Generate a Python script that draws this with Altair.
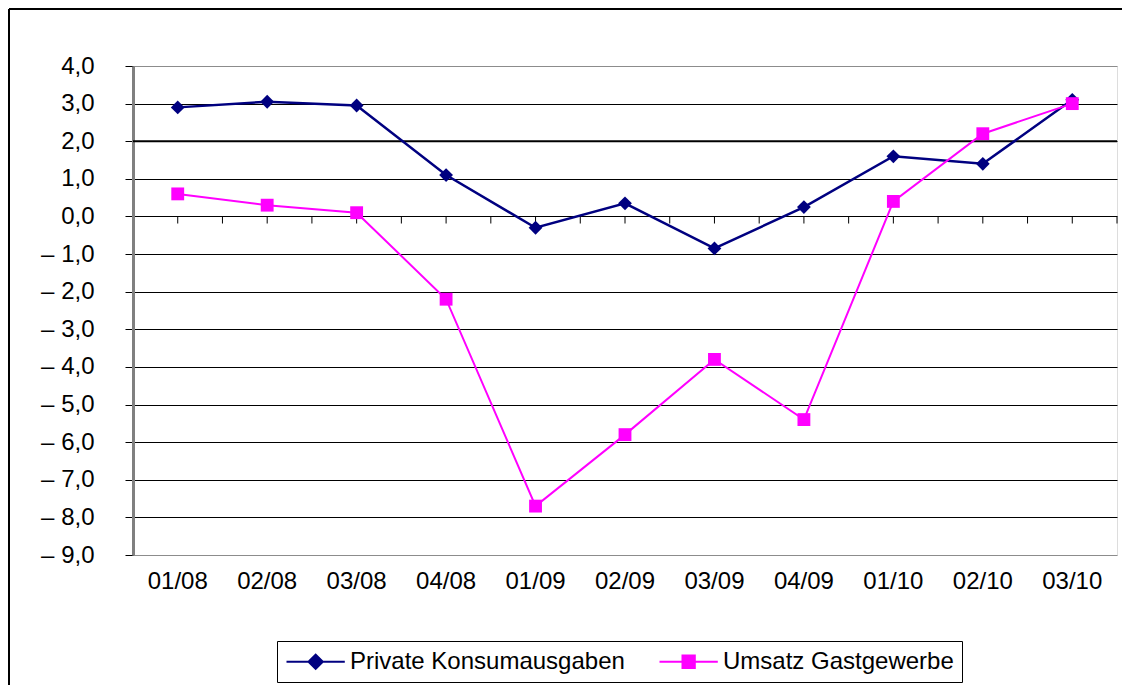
import altair as alt
import pandas as pd

categories = ["01/08", "02/08", "03/08", "04/08", "01/09", "02/09",
              "03/09", "04/09", "01/10", "02/10", "03/10"]
private_konsum = [2.9, 3.05, 2.95, 1.1, -0.3, 0.35, -0.85, 0.25, 1.6, 1.4, 3.1]
umsatz_gast = [0.6, 0.3, 0.1, -2.2, -7.7, -5.8, -3.8, -5.4, 0.4, 2.2, 3.0]
series_names = ["Private Konsumausgaben", "Umsatz Gastgewerbe"]
series_colors = ["#000080", "#FF00FF"]
y_ticks = list(range(-9, 5))
ref_line = [2.0]

rows = []
for c, a, b in zip(categories, private_konsum, umsatz_gast):
    rows.append({"cat": c, "series": series_names[0], "v": a})
    rows.append({"cat": c, "series": series_names[1], "v": b})
df = pd.DataFrame(rows)

FONT = "Liberation Sans"
FS = 24

xscale = alt.Scale(type="band", domain=categories, paddingInner=0, paddingOuter=0)
xaxis = alt.Axis(title=None, labelAngle=0, ticks=False, domain=False, grid=False,
                 labelFontSize=FS, labelFont=FONT, labelColor="black", labelPadding=14)
yscale = alt.Scale(domain=[-9, 4], nice=False, zero=False)
label_expr = ("datum.value < 0 ? '\u2013 ' + replace(format(abs(datum.value), '.1f'), '.', ',')"
              " : replace(format(datum.value, '.1f'), '.', ',')")
yaxis = alt.Axis(title=None, values=y_ticks, grid=True,
                 gridColor={"condition": {"test": "datum.value >= 4 || datum.value <= -9",
                                          "value": "#8c8c8c"}, "value": "#000000"},
                 gridWidth=1, domainColor="#808080", domainWidth=3,
                 tickColor="black", tickSize=8, tickWidth=1,
                 labelExpr=label_expr, labelFontSize=FS, labelFont=FONT,
                 labelColor="black", labelPadding=31)

X = alt.X("cat:N", scale=xscale, axis=xaxis, sort=categories)
Y = alt.Y("v:Q", scale=yscale, axis=yaxis)

base = alt.Chart(df)

ref = alt.Chart(pd.DataFrame({"v": ref_line})).mark_rule(color="black", strokeWidth=2).encode(
    y=alt.Y("v:Q", scale=yscale, axis=yaxis))

zero_df = pd.DataFrame({"cat": categories, "v": [0.0] * len(categories)})
tick_c = alt.Chart(zero_df).mark_tick(orient="vertical", size=7, thickness=1,
                                      color="black", yOffset=3.5, opacity=1).encode(
    x=alt.X("cat:N", scale=xscale, axis=xaxis, sort=categories, bandPosition=0.5),
    y=alt.Y("v:Q", scale=yscale, axis=yaxis))
tick_b = alt.Chart(zero_df).mark_tick(orient="vertical", size=7, thickness=1,
                                      color="black", yOffset=3.5, opacity=1).encode(
    x=alt.X("cat:N", scale=xscale, axis=xaxis, sort=categories, bandPosition=1),
    y=alt.Y("v:Q", scale=yscale, axis=yaxis))

line_pk = base.transform_filter(alt.datum.series == series_names[0]).mark_line(
    color=series_colors[0], strokeWidth=2.5).encode(x=X, y=Y)
line_ug = base.transform_filter(alt.datum.series == series_names[1]).mark_line(
    color=series_colors[1], strokeWidth=2).encode(x=X, y=Y)
pts_pk = base.transform_filter(alt.datum.series == series_names[0]).mark_point(
    shape="diamond", filled=True, size=190, color=series_colors[0], opacity=1).encode(x=X, y=Y)
pts_ug = base.transform_filter(alt.datum.series == series_names[1]).mark_point(
    shape="square", filled=True, size=165, color=series_colors[1], opacity=1).encode(x=X, y=Y)

legend_shapes = [
    "M-1,0L4.3,0M1.01,0L1.65,-0.64L2.29,0L1.65,0.64Z",
    "M-1,0L4.3,0M1.1,-0.55L2.2,-0.55L2.2,0.55L1.1,0.55Z",
]
leg = alt.Legend(title=None, orient="none", direction="horizontal", legendX=144, legendY=575,
                 symbolSize=484, symbolStrokeWidth=2.2, labelOffset=40, labelLimit=500,
                 labelFontSize=FS, labelFont=FONT, labelColor="black",
                 columnPadding=30, padding=8, strokeColor="black", fillColor="white",
                 symbolOpacity=1)
legend_layer = base.transform_filter("false").mark_point(filled=True, opacity=1).encode(
    color=alt.Color("series:N", scale=alt.Scale(domain=series_names, range=series_colors), legend=leg),
    stroke=alt.Stroke("series:N", scale=alt.Scale(domain=series_names, range=series_colors), legend=leg),
    shape=alt.Shape("series:N", scale=alt.Scale(domain=series_names, range=legend_shapes), legend=leg),
)

one = alt.Data(values=[{"a": 1}])
border_top = alt.Chart(one).mark_rule(color="black", strokeWidth=2).encode(
    x=alt.value(-124), x2=alt.value(1100), y=alt.value(-57))
border_left = alt.Chart(one).mark_rule(color="black", strokeWidth=2).encode(
    x=alt.value(-124), y=alt.value(-57), y2=alt.value(700))

chart = alt.layer(
    border_top, border_left, ref, tick_c, tick_b, line_pk, line_ug, pts_pk, pts_ug, legend_layer
).properties(
    width=984, height=489,
    autosize=alt.AutoSizeParams(type="none"),
    padding={"left": 125, "top": 58, "right": 5, "bottom": 130},
).configure_view(stroke="#808080", strokeWidth=1).configure(background="white")

chart.save("out.html", embed_options={"renderer": "svg", "actions": False})
